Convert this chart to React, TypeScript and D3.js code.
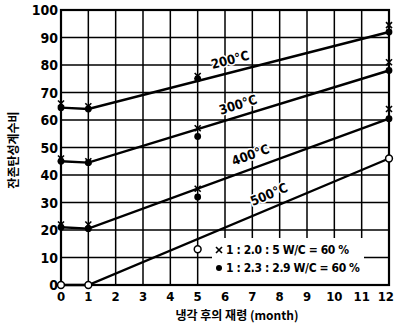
import React from 'react';
import * as d3 from 'd3';

// months where measurements were taken
const months = [0, 1, 5, 12];

// mix 1 : 2.0 : 5 (x markers)
const crossSeries = [
  { temp: '200°C', values: [66, 65, 76, 94.5] },
  { temp: '300°C', values: [46, 45, 57, 81] },
  { temp: '400°C', values: [22, 22, 35, 64] },
];

// mix 1 : 2.3 : 2.9 (filled dots)
const dotSeries = [
  { temp: '200°C', values: [64.5, 64, 75, 92] },
  { temp: '300°C', values: [45, 44.5, 54, 78] },
  { temp: '400°C', values: [21, 20.5, 32, 60.5] },
];

// 500°C (open circles)
const openValues = [0, 0, 13, 46];

// drawn trend lines: flat to month 1, then straight to month 12
const lineMonths = [0, 1, 12];
const trendLines = [
  { temp: '200°C', values: [64.5, 64, 92], labelAt: 6.3, offset: 12 },
  { temp: '300°C', values: [45, 44.5, 78], labelAt: 6.6, offset: 11 },
  { temp: '400°C', values: [21, 20.5, 60.5], labelAt: 7.1, offset: 13 },
  { temp: '500°C', values: [0, 0, 46], labelAt: 7.8, offset: 13 },
];

const xTicks = d3.range(0, 13);
const yTicks = d3.range(0, 101, 10);

const legendItems = [
  { mark: 'cross', text: '1 : 2.0 : 5  W/C = 60 %' },
  { mark: 'dot', text: '1 : 2.3 : 2.9  W/C = 60 %' },
];

const numFont = '"DejaVu Sans Condensed", "Liberation Sans Narrow", "DejaVu Sans", sans-serif';
const krFont = '"Noto Sans CJK KR", "Noto Sans", sans-serif';

const App: React.FC = () => {
  const width = 395;
  const height = 330;
  const margin = { top: 10, right: 6, bottom: 45, left: 61 };

  const x = d3.scaleLinear().domain([0, 12]).range([margin.left, width - margin.right]);
  const y = d3.scaleLinear().domain([0, 100]).range([height - margin.bottom, margin.top]);

  const line = d3.line<number>()
    .x((_, i) => x(lineMonths[i]))
    .y(d => y(d));

  const cross = (cx: number, cy: number, key: string) => (
    <g key={key} stroke="#000" strokeWidth={1.6}>
      <line x1={cx - 3} y1={cy - 3} x2={cx + 3} y2={cy + 3} />
      <line x1={cx - 3} y1={cy + 3} x2={cx + 3} y2={cy - 3} />
    </g>
  );

  return (
    <svg width={width} height={height} style={{ position: 'absolute', left: 0, top: 0, background: '#fff' }}>
      {/* grid */}
      <g stroke="#000" strokeWidth={1.5}>
        {xTicks.map(t => (
          <line key={'gx' + t} x1={x(t)} x2={x(t)} y1={y(0)} y2={y(100)} />
        ))}
        {yTicks.map(t => (
          <line key={'gy' + t} x1={x(0)} x2={x(12)} y1={y(t)} y2={y(t)} />
        ))}
      </g>
      {/* white box behind legend */}
      <rect x={212} y={238} width={152} height={y(0) - 238 - 1} fill="#fff" />
      <rect x={x(0)} y={y(100)} width={x(12) - x(0)} height={y(0) - y(100)}
        fill="none" stroke="#000" strokeWidth={2.2} />

      {/* trend lines */}
      {trendLines.map(s => (
        <path key={s.temp} d={line(s.values) || ''} fill="none" stroke="#000" strokeWidth={2.4} />
      ))}

      {/* temperature labels along the lines */}
      {trendLines.map(s => {
        const i0 = 1;
        const i1 = 2;
        const dx = x(lineMonths[i1]) - x(lineMonths[i0]);
        const dy = y(s.values[i1]) - y(s.values[i0]);
        const ang = (Math.atan2(dy, dx) * 180) / Math.PI;
        const v = s.values[i0] + ((s.labelAt - lineMonths[i0]) / (lineMonths[i1] - lineMonths[i0])) * (s.values[i1] - s.values[i0]);
        return (
          <text key={'lab' + s.temp}
            transform={`translate(${x(s.labelAt)},${y(v)}) rotate(${ang}) translate(0,${-s.offset + 4})`}
            textAnchor="middle" fontFamily={numFont} fontWeight="bold" fontSize={13} fill="#000"
            stroke="#fff" strokeWidth={3} paintOrder="stroke">
            {s.temp}
          </text>
        );
      })}

      {/* markers */}
      {crossSeries.map(s => s.values.map((v, i) => cross(x(months[i]), y(v), `c${s.temp}${i}`)))}
      {dotSeries.map(s => s.values.map((v, i) => (
        <circle key={`d${s.temp}${i}`} cx={x(months[i])} cy={y(v)} r={3.4} fill="#000" />
      )))}
      {openValues.map((v, i) => (
        <circle key={`o${i}`} cx={x(months[i])} cy={y(v)} r={3.4} fill="#fff" stroke="#000" strokeWidth={1.5} />
      ))}

      {/* y tick labels */}
      {yTicks.map(t => (
        <text key={'yt' + t} x={x(0) - 3} y={y(t)} dy="0.36em" textAnchor="end"
          fontFamily={numFont} fontWeight="bold" fontSize={14} fill="#000">{t}</text>
      ))}
      {/* x tick labels */}
      {xTicks.map(t => {
        const last = t === xTicks[xTicks.length - 1];
        return (
          <text key={'xt' + t} x={last ? width - 1 : x(t)} y={y(0) + 16}
            textAnchor={last ? 'end' : 'middle'}
            fontFamily={numFont} fontWeight="bold" fontSize={13} fill="#000">{t}</text>
        );
      })}

      {/* axis titles */}
      <text x={237} y={320} textAnchor="middle" fontFamily={krFont} fontWeight="bold" fontSize={12} fill="#000">
        냉각 후의 재령 (month)
      </text>
      <text transform={`translate(18,${150}) rotate(-90)`} textAnchor="middle"
        fontFamily={krFont} fontWeight="bold" fontSize={12} fill="#000">
        잔존탄성계수비
      </text>

      {/* legend */}
      {legendItems.map((d, i) => {
        const ly = 250 + i * 18;
        return (
          <g key={'lg' + i}>
            {d.mark === 'cross' ? cross(219, ly, 'lgm' + i) : <circle cx={219} cy={ly} r={3} fill="#000" />}
            <text x={226} y={ly} dy="0.36em" fontFamily={numFont} fontWeight="bold" fontSize={12}
              letterSpacing={-0.4} fill="#000">
              {d.text}
            </text>
          </g>
        );
      })}
    </svg>
  );
};

export default App;
